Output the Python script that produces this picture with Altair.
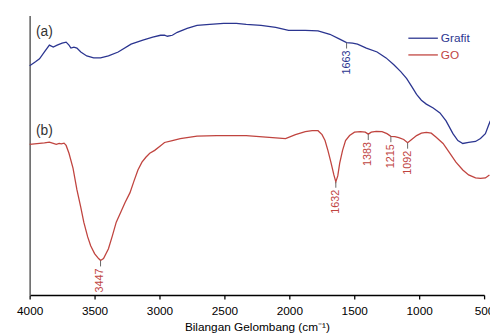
import altair as alt
import pandas as pd

# Grafit spectrum (wavenumber, relative transmittance, arbitrary units)
grafit_wn = [4000, 3977, 3955, 3924, 3886, 3848, 3818, 3788, 3750, 3719, 3697, 3682, 3659, 3636,
             3606, 3560, 3507, 3454, 3393, 3318, 3219, 3128, 3052, 2992, 2961, 2939, 2901, 2863,
             2787, 2711, 2613, 2506, 2408, 2332, 2218, 2105, 2006, 1877, 1779, 1688, 1612, 1559,
             1513, 1475, 1407, 1324, 1255, 1195, 1142, 1096, 1058, 1020, 983, 945, 892, 840, 793,
             740, 702, 664, 619, 566, 528, 490, 467, 452]
grafit_t = [233, 235, 237, 240, 247, 254, 252, 254, 256, 257, 254, 251, 252, 251,
            247, 243, 241, 241, 243, 247, 255, 259, 262, 264, 264, 263, 264, 267,
            271, 274, 275, 276, 276, 275, 274, 272, 269, 269, 268.5, 265, 260, 256.5,
            256, 255, 251, 247, 241, 234, 227, 220, 212, 204, 198, 194, 190, 185, 177,
            164, 157, 154, 155, 156, 159, 164, 172, 177]

# GO spectrum
go_wn = [4000, 3962, 3924, 3886, 3848, 3818, 3795, 3772, 3757, 3735, 3719, 3697, 3666, 3636,
         3606, 3583, 3553, 3530, 3500, 3469, 3454, 3431, 3393, 3363, 3333, 3295, 3265, 3227,
         3196, 3166, 3135, 3105, 3075, 3037, 2999, 2961, 2901, 2840, 2711, 2560, 2332, 2180,
         2029, 1953, 1877, 1824, 1779, 1748, 1725, 1703, 1680, 1657, 1642, 1627, 1612, 1590,
         1567, 1536, 1498, 1453, 1415, 1392, 1369, 1331, 1286, 1248, 1218, 1187, 1157, 1119,
         1089, 1058, 1020, 983, 945, 907, 869, 816, 763, 717, 664, 619, 566, 528, 490, 459]
go_t = [153, 153.5, 154, 154.5, 155.3, 154, 153, 154, 153.5, 154.3, 152, 144, 129, 107,
        89, 74, 59, 50, 42, 37, 35, 37, 47, 60, 74, 85, 94, 104,
        116, 127, 135, 140, 144, 147, 151, 155, 157, 159, 161.5, 162, 162, 160.5,
        159, 163, 166, 167, 167, 163, 157, 147, 135, 122, 115, 121, 134, 147,
        157, 162, 165.5, 166, 165.5, 163.5, 165.5, 166.3, 166, 164, 161.3, 161, 160, 158,
        154.7, 158, 162, 164.5, 165.3, 164.5, 160.3, 154, 144, 135, 127, 122, 119, 118.5, 119, 122]

# Peak annotations
ann_series = ["Grafit", "GO", "GO", "GO", "GO", "GO"]
ann_wn = [1559, 3454, 1642, 1392, 1218, 1089]
ann_t = [256.5, 35, 115, 163.5, 161.3, 154.7]
ann_label = ["1663", "3447", "1632", "1383", "1215", "1092"]

series_names = ["Grafit", "GO"]
series_colors = ["#2b3590", "#c0443f"]
x_ticks = [4000, 3750, 3500, 3250, 3000, 2750, 2500, 2250, 2000, 1750, 1500, 1250, 1000, 750, 500]

df = pd.concat([
    pd.DataFrame({"wn": grafit_wn, "t": grafit_t, "series": "Grafit", "order": range(len(grafit_wn))}),
    pd.DataFrame({"wn": go_wn, "t": go_t, "series": "GO", "order": range(len(go_wn))}),
])
ann = pd.DataFrame({"series": ann_series, "wn": ann_wn, "t": ann_t, "label": ann_label})

FONT = "Liberation Sans"
color_scale = alt.Scale(domain=series_names, range=series_colors)
x_scale = alt.Scale(domain=[4000, 500], nice=False, zero=False)
y_scale = alt.Scale(domain=[0, 284], nice=False, zero=False)

x_enc = alt.X("wn:Q", scale=x_scale,
              axis=alt.Axis(values=x_ticks, title="Bilangan Gelombang (cm⁻¹)",
                            labelExpr="datum.value % 500 == 0 ? datum.label : ''",
                            format="d", grid=False, tickSize=4, tickWidth=1.3, tickColor="black",
                            domainColor="black", domainWidth=1.6, labelPadding=7,
                            labelFontSize=12, labelColor="black", labelFont=FONT,
                            titleFontSize=12, titleFont=FONT, titleFontWeight="normal",
                            titleColor="black", titlePadding=5, labelFlush=False,
                            labelOverlap=False))
y_enc = alt.Y("t:Q", scale=y_scale,
              axis=alt.Axis(title="", labels=False, ticks=False, grid=False,
                            domainColor="#666666", domainWidth=1.6))

lines = alt.Chart(df).mark_line(strokeWidth=1.3, clip=False).encode(
    x=x_enc, y=y_enc,
    color=alt.Color("series:N", scale=color_scale, legend=None),
    order="order:Q",
    detail="series:N",
)

ticks = alt.Chart(ann).mark_rule(strokeWidth=1, color="#666666", y2Offset=6).encode(
    x=alt.X("wn:Q", scale=x_scale),
    y=alt.Y("t:Q", scale=y_scale),
    y2=alt.Y2("t:Q"),
)

labels = alt.Chart(ann).mark_text(angle=270, align="right", baseline="middle", dx=-8,
                                  fontSize=11, font=FONT).encode(
    x=alt.X("wn:Q", scale=x_scale),
    y=alt.Y("t:Q", scale=y_scale),
    text="label:N",
    color=alt.Color("series:N", scale=color_scale, legend=None),
)

panel_a = alt.Chart(pd.DataFrame({"txt": ["(a)"]})).mark_text(
    fontSize=14, font=FONT, color="#333333", align="center", baseline="middle").encode(
    x=alt.value(15), y=alt.value(17), text="txt:N")
panel_b = alt.Chart(pd.DataFrame({"txt": ["(b)"]})).mark_text(
    fontSize=14, font=FONT, color="#333333", align="center", baseline="middle").encode(
    x=alt.value(15), y=alt.value(117), text="txt:N")

leg_layers = []
for i, (name, col) in enumerate(zip(series_names, series_colors)):
    ypix = 23 + 17 * i
    ldf = pd.DataFrame({"series": [name]})
    leg_layers.append(alt.Chart(ldf).mark_rule(color=col, strokeWidth=1.3).encode(
        x=alt.value(385), x2=alt.value(415), y=alt.value(ypix)))
    leg_layers.append(alt.Chart(ldf).mark_text(color=col, fontSize=12, font=FONT,
                                               align="left", baseline="middle").encode(
        x=alt.value(418), y=alt.value(ypix), text="series:N"))

chart = alt.layer(lines, ticks, labels, panel_a, panel_b, *leg_layers).properties(
    width=462, height=284,
    padding={"left": 22, "top": 5, "right": 6, "bottom": 38},
    autosize=alt.AutoSizeParams(type="none"),
    background="white",
).configure_view(stroke=None)

chart.save("out.html", embed_options={"renderer": "svg", "actions": False})
